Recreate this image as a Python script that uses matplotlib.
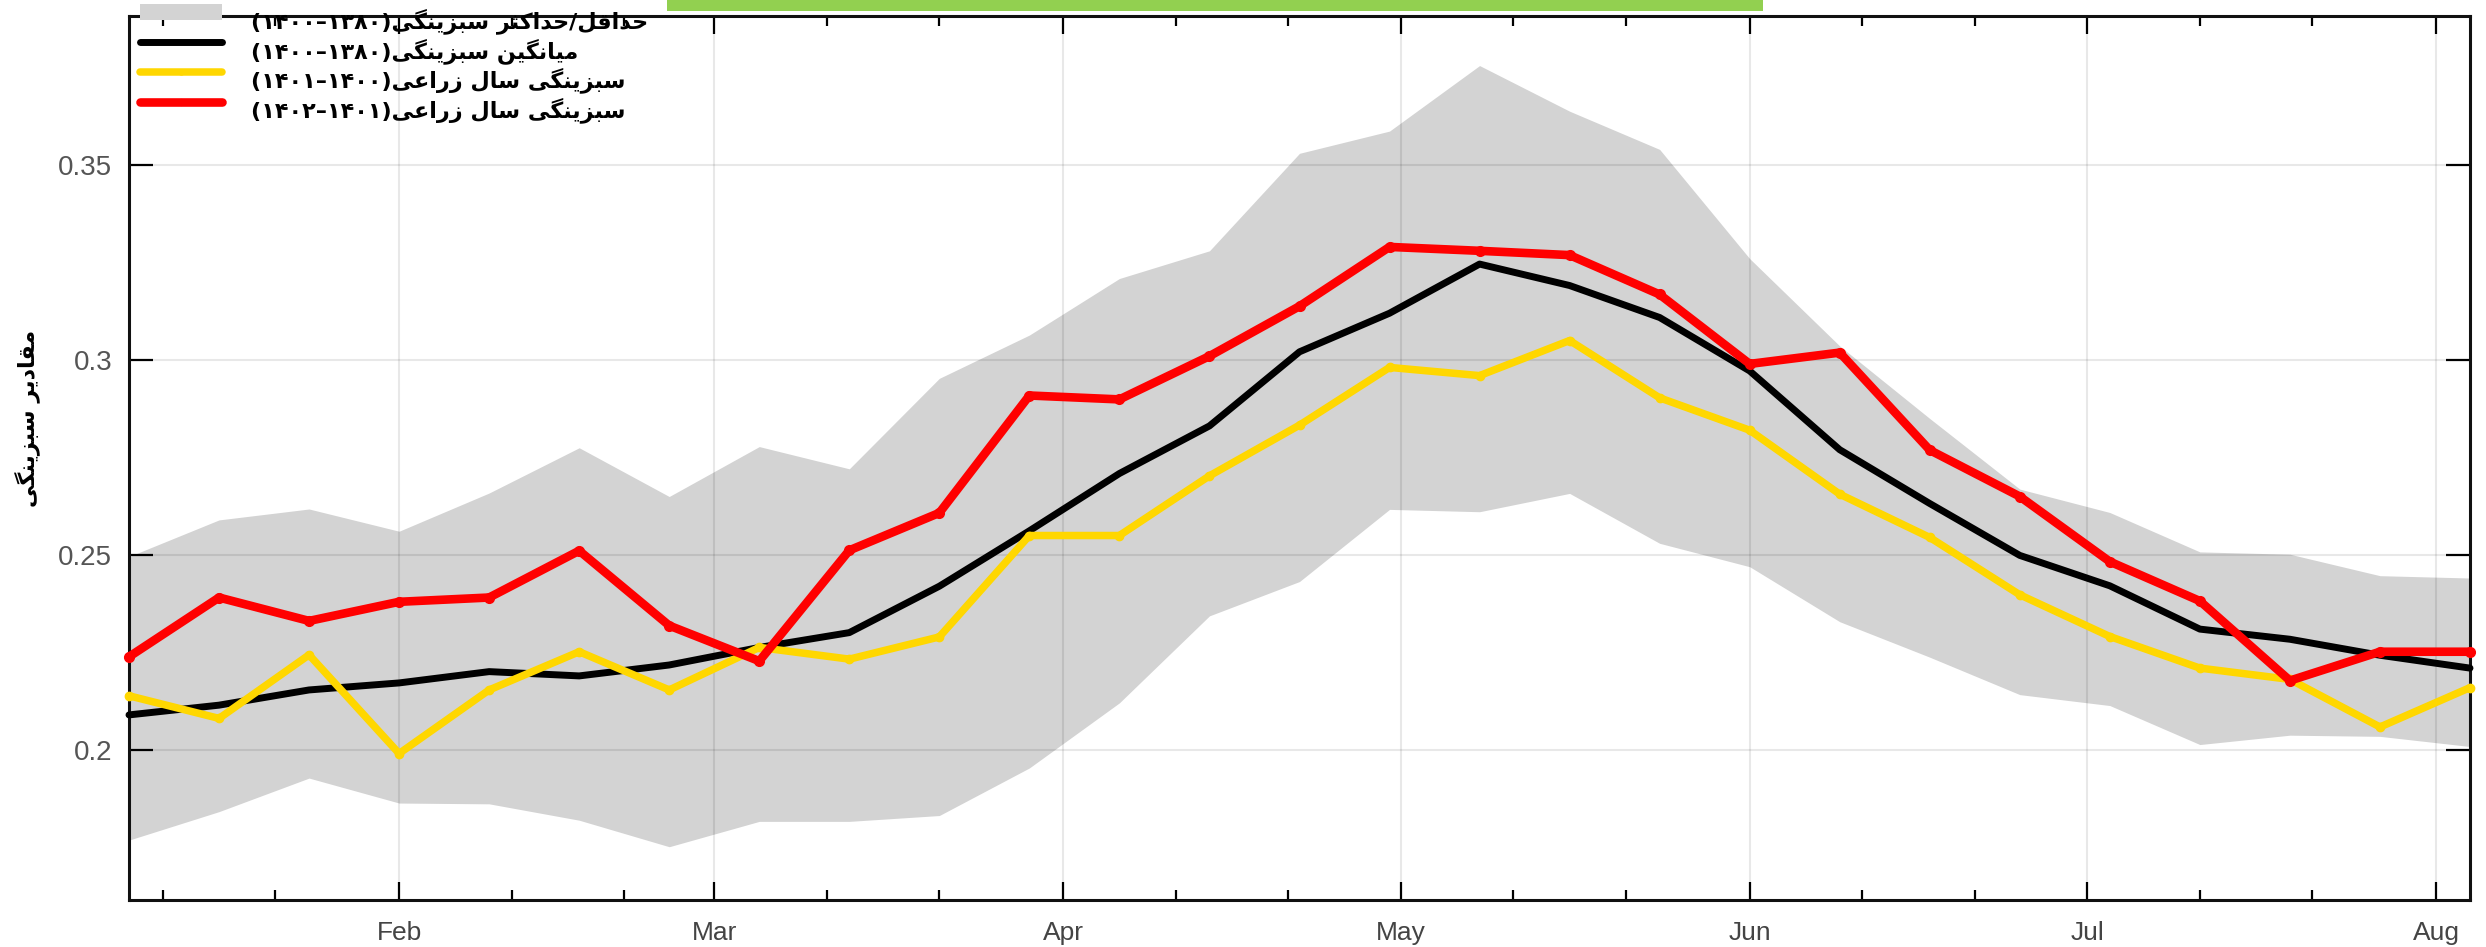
import matplotlib
matplotlib.use("Agg")
import matplotlib.pyplot as plt
import matplotlib.dates as mdates
import matplotlib.transforms as mtransforms
from matplotlib import font_manager
from matplotlib.font_manager import FontProperties
from matplotlib.patches import Rectangle
from matplotlib.ticker import FormatStrFormatter
import numpy as np

# ---------------- data ----------------
dates = ["2023-01-08", "2023-01-16", "2023-01-24", "2023-02-01", "2023-02-09",
         "2023-02-17", "2023-02-25", "2023-03-05", "2023-03-13", "2023-03-21",
         "2023-03-29", "2023-04-06", "2023-04-14", "2023-04-22", "2023-04-30",
         "2023-05-08", "2023-05-16", "2023-05-24", "2023-06-01", "2023-06-09",
         "2023-06-17", "2023-06-25", "2023-07-03", "2023-07-11", "2023-07-19",
         "2023-07-27", "2023-08-04"]

ndvi_min = [0.1769, 0.1842, 0.1928, 0.1864, 0.1862, 0.1820, 0.1752, 0.1817, 0.1817,
            0.1832, 0.1954, 0.2121, 0.2344, 0.2432, 0.2617, 0.2611, 0.2658, 0.2530,
            0.2470, 0.2329, 0.2238, 0.2142, 0.2114, 0.2014, 0.2038, 0.2035, 0.2009]
ndvi_max = [0.2496, 0.2590, 0.2618, 0.2561, 0.2659, 0.2775, 0.2650, 0.2778, 0.2721,
            0.2953, 0.3064, 0.3209, 0.3280, 0.3530, 0.3587, 0.3755, 0.3638, 0.3540,
            0.3260, 0.3036, 0.2850, 0.2669, 0.2609, 0.2508, 0.2502, 0.2447, 0.2441]
ndvi_mean = [0.2090, 0.2115, 0.2154, 0.2172, 0.2201, 0.2190, 0.2218, 0.2263, 0.2301,
             0.2420, 0.2562, 0.2709, 0.2831, 0.3021, 0.3120, 0.3246, 0.3191, 0.3109,
             0.2972, 0.2770, 0.2632, 0.2499, 0.2421, 0.2310, 0.2284, 0.2243, 0.2210]
ndvi_1400_1401 = [0.2139, 0.2081, 0.2244, 0.1991, 0.2154, 0.2252, 0.2154, 0.2263, 0.2233,
                  0.2290, 0.2550, 0.2550, 0.2703, 0.2833, 0.2981, 0.2960, 0.3050, 0.2903,
                  0.2820, 0.2656, 0.2545, 0.2398, 0.2291, 0.2210, 0.2181, 0.2059, 0.2160]
ndvi_1401_1402 = [0.2239, 0.2391, 0.2331, 0.2380, 0.2391, 0.2511, 0.2319, 0.2228, 0.2512,
                  0.2608, 0.2909, 0.2899, 0.3010, 0.3138, 0.3290, 0.3280, 0.3269, 0.3168,
                  0.2990, 0.3019, 0.2769, 0.2650, 0.2483, 0.2382, 0.2178, 0.2252, 0.2252]

y_ticks = [0.2, 0.25, 0.3, 0.35]

label_band = "حداقل/حداکثر سبزینگی(۱۳۸۰–۱۴۰۰)"
label_mean = "میانگین سبزینگی(۱۳۸۰–۱۴۰۰)"
label_y1 = "سبزینگی سال زراعی(۱۴۰۰–۱۴۰۱)"
label_y2 = "سبزینگی سال زراعی(۱۴۰۱–۱۴۰۲)"
y_label = "مقادیر سبزینگی"

# ---------------- minimal Persian shaping (no external libs) ----------------
FORMS = {  # isolated, final, initial, medial
    '\u0627': ('\uFE8D', '\uFE8E', None, None),
    '\u0628': ('\uFE8F', '\uFE90', '\uFE91', '\uFE92'),
    '\u062B': ('\uFE99', '\uFE9A', '\uFE9B', '\uFE9C'),
    '\u062D': ('\uFEA1', '\uFEA2', '\uFEA3', '\uFEA4'),
    '\u062F': ('\uFEA9', '\uFEAA', None, None),
    '\u0631': ('\uFEAD', '\uFEAE', None, None),
    '\u0632': ('\uFEAF', '\uFEB0', None, None),
    '\u0633': ('\uFEB1', '\uFEB2', '\uFEB3', '\uFEB4'),
    '\u0639': ('\uFEC9', '\uFECA', '\uFECB', '\uFECC'),
    '\u0642': ('\uFED5', '\uFED6', '\uFED7', '\uFED8'),
    '\u0644': ('\uFEDD', '\uFEDE', '\uFEDF', '\uFEE0'),
    '\u0645': ('\uFEE1', '\uFEE2', '\uFEE3', '\uFEE4'),
    '\u0646': ('\uFEE5', '\uFEE6', '\uFEE7', '\uFEE8'),
    '\u06A9': ('\uFB8E', '\uFB8F', '\uFB90', '\uFB91'),
    '\u06AF': ('\uFB92', '\uFB93', '\uFB94', '\uFB95'),
    '\u06CC': ('\uFBFC', '\uFBFD', '\uFBFE', '\uFBFF'),
}


def _font_has(path, chars):
    try:
        from fontTools.ttLib import TTFont
        cmap = TTFont(path, fontNumber=0).getBestCmap()
        return all(ord(c) in cmap for c in chars)
    except Exception:
        return False


all_forms = "".join(c for f in FORMS.values() for c in f if c)
AR_FAMILY = 'DejaVu Sans'
AR_WEIGHT = 'bold'
USE_FORMS = True
_p_bold = font_manager.findfont(FontProperties(family='DejaVu Sans', weight='bold'))
_p_reg = font_manager.findfont(FontProperties(family='DejaVu Sans'))
if _font_has(_p_bold, all_forms):
    AR_WEIGHT = 'bold'
elif _font_has(_p_reg, all_forms):
    AR_WEIGHT = 'normal'
else:
    USE_FORMS = False


def shape(s):
    out = []
    n = len(s)
    for i, ch in enumerate(s):
        if ch not in FORMS or not USE_FORMS:
            out.append(ch)
            continue
        prev = s[i - 1] if i > 0 else None
        nxt = s[i + 1] if i < n - 1 else None
        jp = prev in FORMS and FORMS[prev][2] is not None
        jn = nxt in FORMS and FORMS[ch][2] is not None
        iso, fin, ini, med = FORMS[ch]
        if jp and jn:
            out.append(med)
        elif jp:
            out.append(fin)
        elif jn:
            out.append(ini)
        else:
            out.append(iso)
    return "".join(out)


MIRROR = {'(': ')', ')': '('}


def visual(s):
    s = shape(s)
    runs = []
    for ch in s:
        d = ch.isdigit()
        if runs and runs[-1][0] == d:
            runs[-1][1].append(ch)
        else:
            runs.append([d, [ch]])
    res = []
    for d, chars in reversed(runs):
        if d:
            res.append("".join(chars))
        else:
            res.append("".join(MIRROR.get(c, c) for c in reversed(chars)))
    return "".join(res)


# ---------------- figure ----------------
W, H = 2486, 947
fig = plt.figure(figsize=(W / 100, H / 100), dpi=100)
ax = fig.add_axes([129 / W, 1 - 900 / H, (2470 - 129) / W, (900 - 16) / H])

x = np.array(dates, dtype="datetime64[D]").astype("datetime64[ns]")
x = mdates.date2num(x)

band = ax.fill_between(x, ndvi_min, ndvi_max, color='#d3d3d3', linewidth=0, zorder=0.3)
l_mean, = ax.plot(x, ndvi_mean, color='black', lw=5.0, zorder=3,
                  solid_joinstyle='round', solid_capstyle='round', clip_on=False)
l_y1, = ax.plot(x, ndvi_1400_1401, color='#ffd700', lw=5.4, marker='o', ms=6,
                zorder=3.2, solid_joinstyle='round', solid_capstyle='round', clip_on=False)
l_y2, = ax.plot(x, ndvi_1401_1402, color='#ff0000', lw=6.2, marker='o', ms=7,
                zorder=3.4, solid_joinstyle='round', solid_capstyle='round', clip_on=False)

ax.set_xlim(x[0], x[-1])
ax.set_ylim(0.16154, 0.38821)
ax.set_yticks(y_ticks)
ax.yaxis.set_major_formatter(FormatStrFormatter('%g'))

ax.xaxis.set_major_locator(mdates.MonthLocator())
ax.xaxis.set_minor_locator(mdates.DayLocator(bymonthday=[11, 21]))
ax.xaxis.set_major_formatter(mdates.DateFormatter('%b'))

ax.tick_params(axis='both', which='both', direction='in', top=True, right=True,
               color='black', width=1.6)
ax.tick_params(axis='x', which='major', length=13, pad=15, labelsize=19,
               labelcolor='#444444')
ax.tick_params(axis='x', which='minor', length=7)
ax.tick_params(axis='y', which='major', length=17, pad=12, labelsize=20,
               labelcolor='#555555')
for lab in ax.get_xticklabels() + ax.get_yticklabels():
    lab.set_fontfamily('Liberation Sans')

ax.set_axisbelow(True)
ax.grid(True, which='major', color='black', alpha=0.09, linewidth=1.5)

for sp in ax.spines.values():
    sp.set_linewidth(2.2)
    sp.set_color('#111111')

ax.set_ylabel(visual(y_label), fontsize=16, fontweight=AR_WEIGHT, family=AR_FAMILY,
              color='black')
ax.yaxis.set_label_coords(-0.038, 0.545)

leg = ax.legend(handles=[band, l_mean, l_y1, l_y2],
                labels=[visual(label_band), visual(label_mean),
                        visual(label_y1), visual(label_y2)],
                loc='upper left', bbox_to_anchor=(140 / W, 1 - 0 / H),
                bbox_transform=fig.transFigure, frameon=False,
                prop=FontProperties(family=AR_FAMILY, weight=AR_WEIGHT, size=16),
                handlelength=3.7, handletextpad=1.3, labelspacing=0.18,
                borderpad=0, borderaxespad=0, markerscale=0.6)
leg.set_zorder(10)
# nudge legend texts slightly below their handles, as in the reference
shift = mtransforms.ScaledTranslation(0, -8 / 100, fig.dpi_scale_trans)
for t in leg.get_texts():
    t.set_transform(t.get_transform() + shift)

fig.add_artist(Rectangle((667 / W, 1 - 11 / H), (1763 - 667) / W, 11 / H,
                         transform=fig.transFigure, color='#92d050', lw=0, zorder=20))

fig.savefig("out.png", dpi=100)
